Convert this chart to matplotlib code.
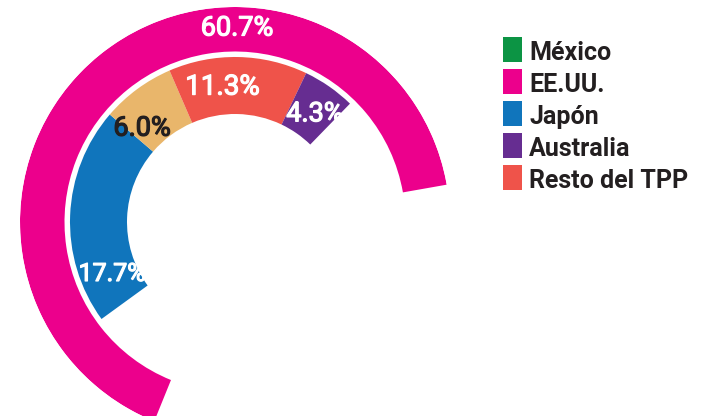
import numpy as np
import matplotlib
matplotlib.use("Agg")
import matplotlib.pyplot as plt
import matplotlib.patheffects as pe
from matplotlib.patches import Rectangle

# ---- data ----
outer_label = "EE.UU."
outer_value = 60.7
inner_labels = ["Japón", "Otros", "Resto del TPP", "Australia"]
inner_values = [17.7, 6.0, 11.3, 4.3]
legend_labels = ["México", "EE.UU.", "Japón", "Australia", "Resto del TPP"]

# ---- styles ----
COL = {"México": "#0C9444", "EE.UU.": "#EC008C", "Japón": "#1075BC",
       "Otros": "#E9B66B", "Resto del TPP": "#EF534A", "Australia": "#662D91"}
W, H = 711, 416
CX, CY = 235, 222          # ring centre, px from top-left
R_MAX = 215
OUT_BOTTOM, OUT_TOP = 170.5, 215
IN_BOTTOM, IN_TOP = 108, 165
OUT_START, DEG_OUT = 10.0, 3.92     # degrees per percent point
IN_START, DEG_IN = 216.0, 4.33

fig = plt.figure(figsize=(W / 100, H / 100), dpi=100)
ax = fig.add_axes([(CX - R_MAX) / W, (H - CY - R_MAX) / H, 2 * R_MAX / W, 2 * R_MAX / H],
                  projection="polar")
ax.set_theta_zero_location("E")
ax.set_theta_direction(1)
ax.set_ylim(0, R_MAX)
ax.set_axis_off()

# outer ring (EE.UU.)
ax.bar(np.deg2rad(OUT_START), OUT_TOP - OUT_BOTTOM, width=np.deg2rad(outer_value * DEG_OUT),
       bottom=OUT_BOTTOM, align="edge", color=COL[outer_label], linewidth=0)

# inner ring, clockwise from IN_START
edges = IN_START - np.concatenate([[0], np.cumsum(inner_values)]) * DEG_IN
for lab, v, e in zip(inner_labels, inner_values, edges[1:]):
    ax.bar(np.deg2rad(e), IN_TOP - IN_BOTTOM, width=np.deg2rad(v * DEG_IN),
           bottom=IN_BOTTOM, align="edge", color=COL[lab], linewidth=0)

# value labels (angle deg, radius, colour, size)
lab_pos = {"EE.UU.": (89.4, 194, "white", 19.5),
           "Resto del TPP": (95.3, 135.5, "white", 20),
           "Australia": (53.5, 134.5, "white", 19.5),
           "Otros": (134.7, 132, "#231F20", 19.5),
           "Japón": (202.9, 133.5, "white", 18)}
vals = dict(zip(inner_labels, inner_values))
vals[outer_label] = outer_value
for k, (a, r, c, s) in lab_pos.items():
    ax.text(np.deg2rad(a), r, f"{vals[k]:.1f}%", color=c, fontsize=s,
            ha="center", va="center", family="Roboto",
            path_effects=[pe.withStroke(linewidth=0.9, foreground=c)])

# legend
def fx(x): return x / W
def fy(y): return 1 - y / H
for i, lab in enumerate(legend_labels):
    top = 36.7 + i * 32
    fig.add_artist(Rectangle((fx(503), fy(top + 25)), 18.5 / W, 25 / H,
                             transform=fig.transFigure, color=COL[lab], linewidth=0))
    fig.text(fx(529), fy(59.5 + i * 32.1), lab, fontsize=18, fontweight="bold",
             family="Roboto", color="#231F20", ha="left", va="baseline")

fig.savefig("out.png", dpi=100)
